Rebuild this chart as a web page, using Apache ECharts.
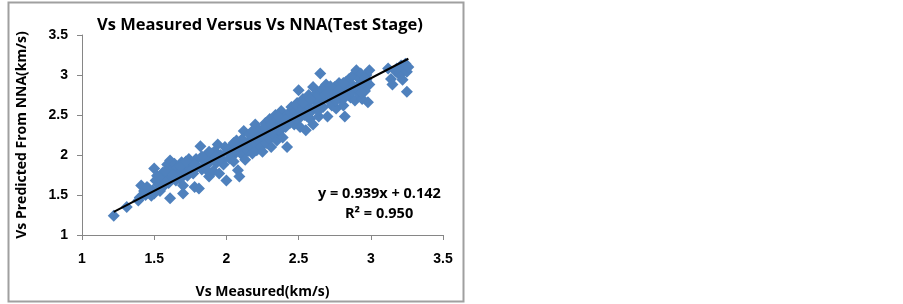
<!DOCTYPE html>
<html>
<head>
<meta charset="utf-8">
<script src="https://cdn.jsdelivr.net/npm/echarts@6/dist/echarts.min.js"></script>
<style>
html,body{margin:0;padding:0;background:#fff;}
#main{width:903px;height:304px;}
</style>
</head>
<body>
<div id="main"></div>
<script>
// 数据: 实测 Vs (km/s) 与 NNA 预测 Vs (km/s)
var measX=[
1.22,1.31,1.39,1.40,1.41,1.43,1.44,1.46,1.47,1.48,1.49,1.50,1.50,1.51,1.52,1.53,1.54,1.55,1.56,1.57,
1.58,1.59,1.60,1.61,1.61,1.62,1.63,1.64,1.65,1.66,1.67,1.68,1.69,1.70,1.71,1.72,1.73,1.74,1.75,1.76,
1.77,1.78,1.79,1.80,1.81,1.82,1.83,1.84,1.86,1.87,1.88,1.89,1.90,1.91,1.92,1.93,1.94,1.95,1.96,1.97,
1.98,2.00,2.01,2.03,2.04,2.05,2.06,2.08,2.09,2.10,2.11,2.12,2.13,2.14,2.15,2.16,2.17,2.18,2.19,2.20,
2.20,2.21,2.22,2.23,2.24,2.25,2.25,2.26,2.27,2.28,2.29,2.30,2.30,2.31,2.32,2.33,2.34,2.35,2.36,2.37,
2.38,2.39,2.40,2.41,2.42,2.43,2.44,2.45,2.46,2.47,2.48,2.49,2.50,2.50,2.51,2.52,2.53,2.54,2.55,2.56,
2.57,2.58,2.59,2.60,2.60,2.61,2.62,2.63,2.64,2.65,2.65,2.66,2.67,2.68,2.69,2.70,2.71,2.72,2.73,2.74,
2.75,2.76,2.77,2.78,2.79,2.80,2.81,2.82,2.83,2.84,2.85,2.86,2.87,2.88,2.89,2.90,2.90,2.91,2.92,2.93,
2.94,2.95,2.96,2.97,2.98,2.99,2.99,3.12,3.14,3.15,3.17,3.20,3.21,3.23,3.24,3.25,3.25,3.26,
2.28,2.33,2.38,2.44,2.48,2.53,2.58,2.63,2.68,2.73,2.78,2.83,2.88,2.93,2.97,2.36,2.46,2.56,2.66,2.76,
2.86,2.96,2.22,2.32,2.42,2.52,2.62,2.72,2.82,2.92,1.96,2.02,2.07,2.12,1.57,1.66,1.75,1.85,
1.45,1.53,1.58,1.63,1.68,1.72,1.78,1.83,1.88,1.93,1.99,2.03,2.07,2.11,2.16,2.21,2.26,2.31,2.36,2.41,
2.47,2.53,2.58,2.64,2.70,2.75,2.81,2.87,2.93,3.18,3.22,1.54,1.70,1.87,2.05,2.18
];
var predY=[
1.24,1.35,1.43,1.47,1.62,1.55,1.50,1.58,1.52,1.49,1.56,1.83,1.52,1.68,1.74,1.63,1.58,1.66,1.78,1.62,
1.71,1.88,1.65,1.46,1.93,1.80,1.73,1.89,1.68,1.84,1.77,1.70,1.91,1.52,1.80,1.86,1.74,1.95,1.83,1.90,
1.77,1.60,1.95,1.86,1.58,2.11,1.82,1.93,1.98,1.88,1.73,1.95,2.02,1.80,2.05,1.90,2.13,1.77,2.00,1.93,
1.88,1.68,2.05,2.10,1.98,2.15,2.04,1.81,1.73,2.08,2.00,2.30,1.94,2.12,2.05,2.18,2.10,2.02,2.22,2.38,
2.14,2.06,2.25,2.17,2.10,2.32,2.04,2.22,2.40,2.15,2.28,2.45,2.20,2.10,2.35,2.25,2.50,2.18,2.40,2.30,
2.55,2.22,2.45,2.35,2.10,2.52,2.40,2.60,2.48,2.38,2.55,2.65,2.81,2.45,2.35,2.58,2.70,2.50,2.31,2.62,
2.75,2.45,2.55,2.38,2.85,2.68,2.58,2.78,2.48,3.02,2.70,2.82,2.60,2.75,2.88,2.48,2.68,2.80,2.62,2.72,
2.85,2.58,2.78,2.90,2.70,2.82,2.62,2.48,2.92,2.78,2.95,2.72,2.88,3.00,2.68,3.06,2.85,2.78,2.95,3.02,
2.70,2.90,2.80,3.00,2.66,3.06,2.88,3.08,2.95,2.88,3.05,3.00,3.12,3.08,3.14,2.79,3.04,3.10,
2.32,2.40,2.42,2.50,2.62,2.60,2.68,2.62,2.85,2.78,2.82,2.86,2.82,2.88,2.94,2.32,2.52,2.48,2.60,2.68,
2.82,2.96,2.32,2.30,2.50,2.55,2.72,2.86,2.72,2.86,1.95,1.96,2.12,2.15,1.68,1.75,1.80,1.98,
1.60,1.72,1.80,1.76,1.86,1.92,1.88,1.98,2.04,1.98,2.10,2.02,2.18,2.20,2.26,2.28,2.34,2.38,2.48,2.44,
2.42,2.66,2.70,2.56,2.78,2.68,2.90,2.80,2.78,3.08,2.94,1.55,1.62,1.80,1.92,2.30
];
// 趋势线端点 (y = 0.939x + 0.142)
var trendX=[1.22,3.26];
var trendY=[1.288,3.203];
var axisTicks=[1,1.5,2,2.5,3,3.5];

var pts=[];
for(var i=0;i<measX.length;i++){
	pts.push([measX[i],predY[i]]);
}
var trend=[];
for(var j=0;j<trendX.length;j++){
	trend.push([trendX[j],trendY[j]]);
}

var chart=echarts.init(document.getElementById('main'));
var axisGray='#868686';
var option={
	backgroundColor:'#ffffff',
	animation:false,
	title:{
		text:'Vs Measured Versus Vs NNA(Test Stage)',
		left:255,
		top:12,
		textAlign:'center',
		textStyle:{fontFamily:'Open Sans',fontWeight:'bold',fontSize:16.5,color:'#000'}
	},
	grid:{left:82,right:460,top:35,bottom:65},
	xAxis:{
		type:'value',
		min:axisTicks[0],
		max:axisTicks[axisTicks.length-1],
		interval:0.5,
		name:'Vs Measured(km/s)',
		nameLocation:'middle',
		nameGap:50,
		nameTextStyle:{fontFamily:'Open Sans',fontWeight:'bold',fontSize:14,color:'#000'},
		axisLine:{lineStyle:{color:axisGray,width:1}},
		axisTick:{show:true,inside:false,length:5,lineStyle:{color:axisGray}},
		axisLabel:{margin:17,fontFamily:'Liberation Sans',fontWeight:'bold',fontSize:14,color:'#000'},
		splitLine:{show:false}
	},
	yAxis:{
		type:'value',
		min:axisTicks[0],
		max:axisTicks[axisTicks.length-1],
		interval:0.5,
		name:'Vs Predicted From NNA(km/s)',
		nameLocation:'middle',
		nameGap:53,
		nameTextStyle:{fontFamily:'Open Sans',fontWeight:'bold',fontSize:14,color:'#000'},
		axisLine:{show:true,lineStyle:{color:axisGray,width:1}},
		axisTick:{show:true,inside:false,length:5,lineStyle:{color:axisGray}},
		axisLabel:{margin:14,fontFamily:'Liberation Sans',fontWeight:'bold',fontSize:14,color:'#000'},
		splitLine:{show:false}
	},
	graphic:[
		{
			type:'rect',
			shape:{x:8.5,y:2.5,width:455,height:299},
			style:{fill:'none',stroke:'#a0a0a0',lineWidth:2},
			silent:true
		},
		{
			type:'text',
			left:318,
			top:186,
			style:{text:'y = 0.939x + 0.142',fontFamily:'Open Sans',fontWeight:'bold',fontSize:14.5,fill:'#000'}
		},
		{
			type:'text',
			left:345,
			top:206,
			style:{text:'R² = 0.950',fontFamily:'Open Sans',fontWeight:'bold',fontSize:14.5,fill:'#000'}
		}
	],
	series:[
		{
			name:'Vs',
			type:'scatter',
			data:pts,
			symbol:'diamond',
			symbolSize:12,
			itemStyle:{color:'#4F81BD',opacity:1}
		},
		{
			name:'trend',
			type:'line',
			data:trend,
			symbol:'none',
			lineStyle:{color:'#000',width:2},
			z:5
		}
	]
};
chart.setOption(option);
</script>
</body>
</html>
